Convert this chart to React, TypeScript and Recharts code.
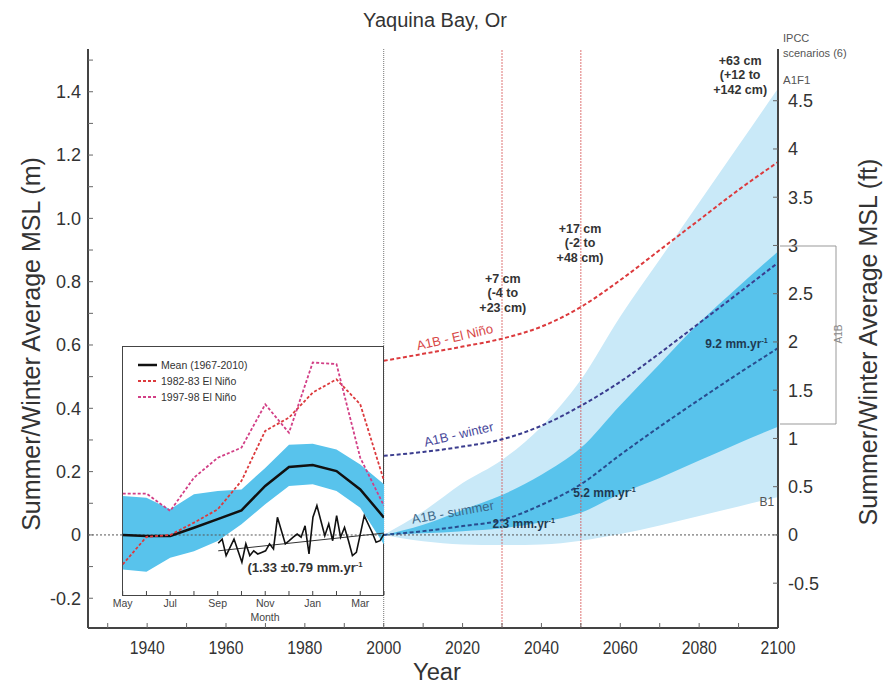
import React from 'react';
import {
  ComposedChart,
  Area,
  Line,
  XAxis,
  YAxis,
  ReferenceLine,
  ReferenceDot,
} from 'recharts';

// projections 2000-2100 (m above 2000 level)
const years = [2000, 2010, 2020, 2030, 2040, 2050, 2060, 2070, 2080, 2090, 2100];
const ipccLow = [0, -0.02, -0.03, -0.032, -0.03, -0.018, 0.003, 0.03, 0.06, 0.09, 0.12];
const ipccHigh = [0, 0.074, 0.164, 0.237, 0.342, 0.49, 0.69, 0.87, 1.05, 1.23, 1.41];
const a1bLow = [0, 0.005, 0.012, 0.021, 0.04, 0.07, 0.13, 0.18, 0.235, 0.29, 0.342];
const a1bHigh = [0, 0.032, 0.079, 0.126, 0.19, 0.275, 0.41, 0.54, 0.67, 0.785, 0.895];
const a1bElNino = [0.55, 0.572, 0.595, 0.62, 0.658, 0.72, 0.805, 0.9, 0.995, 1.09, 1.178];
const a1bWinter = [0.25, 0.262, 0.279, 0.302, 0.345, 0.408, 0.484, 0.574, 0.669, 0.764, 0.86];
const a1bSummer = [0, 0.012, 0.028, 0.047, 0.095, 0.16, 0.253, 0.342, 0.427, 0.51, 0.59];

// inset: monthly cycle May..Apr
const months = ['May', 'Jun', 'Jul', 'Aug', 'Sep', 'Oct', 'Nov', 'Dec', 'Jan', 'Feb', 'Mar', 'Apr'];
const meanMonthly = [0, -0.003, -0.003, 0.023, 0.05, 0.078, 0.155, 0.215, 0.221, 0.202, 0.144, 0.055];
const meanLow = [-0.109, -0.116, -0.072, -0.051, -0.019, 0.034, 0.097, 0.155, 0.16, 0.139, 0.086, -0.03];
const meanHigh = [0.123, 0.118, 0.081, 0.129, 0.139, 0.144, 0.212, 0.285, 0.288, 0.27, 0.223, 0.16];
const nino8283 = [-0.093, -0.006, 0, 0.039, 0.081, 0.171, 0.329, 0.371, 0.45, 0.492, 0.413, 0.171];
const nino9798 = [0.131, 0.131, 0.076, 0.181, 0.244, 0.276, 0.413, 0.323, 0.545, 0.54, 0.244, 0.092];

// annual mean sea level anomaly
const annualYears = [
  1958, 1959, 1960, 1962, 1964, 1965, 1966, 1967, 1968, 1969, 1970, 1971, 1972, 1973, 1975, 1976, 1977, 1978, 1979,
  1980, 1981, 1982, 1983, 1985, 1986, 1987, 1988, 1989, 1990, 1991, 1992, 1993, 1994, 1995, 1997, 1998, 1999, 2000,
];
const annualMsl = [
  -0.026, -0.013, -0.065, -0.013, -0.086, -0.028, -0.065, -0.05, -0.06, -0.055, -0.05, -0.028, -0.044, 0.056, -0.028,
  -0.018, -0.007, 0.003, -0.007, 0.029, -0.06, 0.056, 0.093, -0.002, 0.035, -0.018, 0.061, -0.007, 0.024, -0.018,
  -0.065, -0.055, 0.003, 0.061, 0.008, -0.023, -0.018, 0.003,
];
const trendYears = [1958, 2000];
const trendMsl = [-0.05, 0.006];

const mTicks = [-0.2, -0.1, 0, 0.1, 0.2, 0.3, 0.4, 0.5, 0.6, 0.7, 0.8, 0.9, 1.0, 1.1, 1.2, 1.3, 1.4, 1.5];
const ftTicks = [-0.5, 0, 0.5, 1, 1.5, 2, 2.5, 3, 3.5, 4, 4.5];
const yearTicks = [1930, 1940, 1950, 1960, 1970, 1980, 1990, 2000, 2010, 2020, 2030, 2040, 2050, 2060, 2070, 2080, 2090, 2100];
const insetMTicks = [-0.1, 0, 0.1, 0.2, 0.3, 0.4, 0.5];
const monthTicks = [0, 1, 2, 3, 4, 5, 6, 7, 8, 9, 10, 11];

const FT = 0.3048;
const M_DOMAIN: [number, number] = [-0.294, 1.535];
const FT_DOMAIN: [number, number] = [M_DOMAIN[0] / FT, M_DOMAIN[1] / FT];

const FONT = "'Liberation Sans', Arial, Helvetica, sans-serif";
const LIGHT = '#c9e9f8';
const DARK = '#58c3ec';
const RED = '#dc3a3d';
const WINTER = '#3a3c8e';
const SUMMER = '#284c8e';
const PINK = '#d23f86';

const projData = years.map((year, i) => ({
  year,
  ipcc: [ipccLow[i], ipccHigh[i]],
  a1b: [a1bLow[i], a1bHigh[i]],
  elNino: a1bElNino[i],
  winter: a1bWinter[i],
  summer: a1bSummer[i],
}));

const monthData = months.map((name, i) => ({
  mo: i,
  name,
  band: [meanLow[i], meanHigh[i]],
  mean: meanMonthly[i],
  n83: nino8283[i],
  n98: nino9798[i],
}));

const annualData = annualYears.map((year, i) => ({ year, msl: annualMsl[i] }));
const trendData = trendYears.map((year, i) => ({ year, msl: trendMsl[i] }));

type NoteProps = {
  cx?: number;
  cy?: number;
  lines: string[];
  sup?: string;
  color?: string;
  size?: number;
  bold?: boolean;
  angle?: number;
  gap?: number;
};

const Note = ({ cx = 0, cy = 0, lines, sup, color = '#333', size = 12, bold = false, angle = 0, gap }: NoteProps) => {
  const lh = gap ?? size * 1.2;
  const n = lines.length;
  return (
    <text
      x={cx}
      y={cy}
      textAnchor="middle"
      fill={color}
      fontSize={size}
      fontWeight={bold ? 700 : 400}
      fontFamily={FONT}
      transform={angle ? `rotate(${angle} ${cx} ${cy})` : undefined}
    >
      {lines.map((line, i) => (
        <tspan key={i} x={cx} y={cy + (i - (n - 1) / 2) * lh} dy="0.35em">
          {line}
          {sup && i === n - 1 ? (
            <tspan dy={-size * 0.4} fontSize={size * 0.6}>
              {sup}
            </tspan>
          ) : null}
        </tspan>
      ))}
    </text>
  );
};

const note = (props: Omit<NoteProps, 'cx' | 'cy'>) => (p: any) => <Note cx={p.cx} cy={p.cy} {...props} />;

const mLabel = (v: number) => {
  const k = Math.round(v * 10);
  if (k % 2 !== 0) return '';
  return k === 0 ? '0' : v.toFixed(1);
};

// condensed year labels, like the original's narrow font
const YearTick = (props: any) => {
  const { x, y, payload } = props;
  const v = payload.value as number;
  if (v % 20 !== 0) return null;
  return (
    <text
      x={x}
      y={y}
      textAnchor="middle"
      dy="0.71em"
      fontSize={19}
      fill="#333"
      fontFamily={FONT}
      textLength={35}
      lengthAdjust="spacingAndGlyphs"
    >
      {v}
    </text>
  );
};

const MainChart = () => (
  <ComposedChart
    width={895}
    height={685}
    data={projData}
    margin={{ top: 49, right: 57, bottom: 27, left: 28 }}
    style={{ position: 'absolute', left: 0, top: 0 }}
  >
    <XAxis
      xAxisId="yr"
      dataKey="year"
      type="number"
      domain={[1925, 2100]}
      allowDataOverflow
      ticks={yearTicks}
      interval={0}
      height={30}
      tickSize={-5}
      tickMargin={18}
      tick={<YearTick />}
      axisLine={{ stroke: '#444', strokeWidth: 2 }}
      tickLine={{ stroke: '#666' }}
    />
    <XAxis
      xAxisId="top"
      orientation="top"
      dataKey="year"
      type="number"
      domain={[1925, 2100]}
      allowDataOverflow
      ticks={yearTicks}
      interval={0}
      height={0}
      tickSize={-5}
      tickFormatter={() => ''}
      axisLine={{ stroke: '#444', strokeWidth: 2 }}
      tickLine={{ stroke: '#666' }}
    />
    <YAxis
      yAxisId="m"
      type="number"
      domain={M_DOMAIN}
      allowDataOverflow
      ticks={mTicks}
      interval={0}
      width={60}
      tickSize={-5}
      tickMargin={12}
      tickFormatter={mLabel}
      tick={{ fontSize: 18, fill: '#333', fontFamily: FONT }}
      axisLine={{ stroke: '#444', strokeWidth: 2 }}
      tickLine={{ stroke: '#666' }}
    />
    <YAxis
      yAxisId="ft"
      orientation="right"
      type="number"
      domain={FT_DOMAIN}
      allowDataOverflow
      ticks={ftTicks}
      interval={0}
      width={60}
      tickSize={-5}
      tickMargin={15}
      tickFormatter={(v: number) => String(v)}
      tick={{ fontSize: 18, fill: '#333', fontFamily: FONT }}
      axisLine={{ stroke: '#444', strokeWidth: 2 }}
      tickLine={{ stroke: '#666' }}
    />

    <Area xAxisId="yr" yAxisId="m" type="monotone" dataKey="ipcc" fill={LIGHT} fillOpacity={1} stroke="none" isAnimationActive={false} />
    <Area xAxisId="yr" yAxisId="m" type="monotone" dataKey="a1b" fill={DARK} fillOpacity={1} stroke="none" isAnimationActive={false} />

    <ReferenceLine xAxisId="yr" yAxisId="m" x={2000} stroke="#777" strokeWidth={1} strokeDasharray="1 1" />
    <ReferenceLine xAxisId="yr" yAxisId="m" x={2030} stroke="#d65050" strokeWidth={0.8} strokeDasharray="2 1" />
    <ReferenceLine xAxisId="yr" yAxisId="m" x={2050} stroke="#d65050" strokeWidth={0.8} strokeDasharray="2 1" />
    <ReferenceLine xAxisId="yr" yAxisId="m" y={0} stroke="#555" strokeWidth={1} strokeDasharray="2 2" />

    <Line xAxisId="yr" yAxisId="m" type="monotone" dataKey="elNino" stroke={RED} strokeWidth={2} strokeDasharray="4 2.5" dot={false} isAnimationActive={false} />
    <Line xAxisId="yr" yAxisId="m" type="monotone" dataKey="winter" stroke={WINTER} strokeWidth={2} strokeDasharray="4 2.5" dot={false} isAnimationActive={false} />
    <Line xAxisId="yr" yAxisId="m" type="monotone" dataKey="summer" stroke={SUMMER} strokeWidth={2} strokeDasharray="4 2.5" dot={false} isAnimationActive={false} />

    <ReferenceDot xAxisId="yr" yAxisId="m" x={2030.2} y={0.765} r={1} shape={note({ lines: ['+7 cm', '(-4 to', '+23 cm)'], bold: true, size: 12.5, gap: 14.5 })} />
    <ReferenceDot xAxisId="yr" yAxisId="m" x={2049.8} y={0.923} r={1} shape={note({ lines: ['+17 cm', '(-2 to', '+48 cm)'], bold: true, size: 12.5, gap: 14.5 })} />
    <ReferenceDot xAxisId="yr" yAxisId="m" x={2090.4} y={1.453} r={1} shape={note({ lines: ['+63 cm', '(+12 to', '+142 cm)'], bold: true, size: 12.5, gap: 14.5 })} />
    <ReferenceDot xAxisId="yr" yAxisId="m" x={2018} y={0.625} r={1} shape={note({ lines: ['A1B - El Niño'], color: '#d84848', size: 13, angle: -13 })} />
    <ReferenceDot xAxisId="yr" yAxisId="m" x={2019} y={0.318} r={1} shape={note({ lines: ['A1B - winter'], color: '#4a4a9c', size: 13, angle: -13 })} />
    <ReferenceDot xAxisId="yr" yAxisId="m" x={2017.5} y={0.072} r={1} shape={note({ lines: ['A1B - summer'], color: '#3d6888', size: 13, angle: -10 })} />
    <ReferenceDot xAxisId="yr" yAxisId="m" x={2035.5} y={0.035} r={1} shape={note({ lines: ['2.3 mm.yr'], sup: '-1', color: '#1f3a52', size: 12, bold: true })} />
    <ReferenceDot xAxisId="yr" yAxisId="m" x={2056} y={0.133} r={1} shape={note({ lines: ['5.2 mm.yr'], sup: '-1', color: '#1f3a52', size: 12, bold: true })} />
    <ReferenceDot xAxisId="yr" yAxisId="m" x={2089.5} y={0.603} r={1} shape={note({ lines: ['9.2 mm.yr'], sup: '-1', color: '#1f3a52', size: 12, bold: true })} />
    <ReferenceDot xAxisId="yr" yAxisId="m" x={2097.2} y={0.104} r={1} shape={note({ lines: ['B1'], color: '#555', size: 12 })} />
  </ComposedChart>
);

const InsetChart = () => (
  <ComposedChart
    width={292}
    height={290}
    data={monthData}
    margin={{ top: 6.7, right: 8, bottom: 15, left: 22.7 }}
    style={{ position: 'absolute', left: 100, top: 340 }}
  >
    <XAxis
      xAxisId="mo"
      dataKey="mo"
      type="number"
      domain={[0, 11]}
      allowDataOverflow
      ticks={monthTicks}
      interval={0}
      height={20}
      tickSize={-4}
      tickMargin={9}
      tickFormatter={(i: number) => (i % 2 === 0 ? months[i] : '')}
      tick={{ fontSize: 10.5, fill: '#444', fontFamily: FONT }}
      axisLine={false}
      tickLine={{ stroke: '#444' }}
    />
    <XAxis xAxisId="annual" orientation="top" height={0} dataKey="year" type="number" domain={[1933.8, 2000]} allowDataOverflow hide />
    <YAxis
      yAxisId="m"
      type="number"
      domain={[-0.1896, 0.595]}
      allowDataOverflow
      ticks={insetMTicks}
      interval={0}
      width={0}
      tickSize={-4}
      tickFormatter={() => ''}
      axisLine={false}
      tickLine={{ stroke: '#444' }}
    />

    <ReferenceLine xAxisId="mo" yAxisId="m" y={0} stroke="#555" strokeWidth={1} strokeDasharray="2 2" />
    <Area xAxisId="mo" yAxisId="m" type="linear" dataKey="band" fill={DARK} fillOpacity={1} stroke="none" isAnimationActive={false} />
    <Line xAxisId="mo" yAxisId="m" type="linear" dataKey="mean" stroke="#111" strokeWidth={2.5} dot={false} isAnimationActive={false} />
    <Line xAxisId="mo" yAxisId="m" type="linear" dataKey="n83" stroke={RED} strokeWidth={1.8} strokeDasharray="3 2" dot={false} isAnimationActive={false} />
    <Line xAxisId="mo" yAxisId="m" type="linear" dataKey="n98" stroke={PINK} strokeWidth={1.8} strokeDasharray="3 2" dot={false} isAnimationActive={false} />

    <Line xAxisId="annual" yAxisId="m" data={trendData} type="linear" dataKey="msl" stroke="#333" strokeWidth={1} dot={false} isAnimationActive={false} />
    <Line xAxisId="annual" yAxisId="m" data={annualData} type="linear" dataKey="msl" stroke="#111" strokeWidth={1.6} dot={false} isAnimationActive={false} />
    <ReferenceDot xAxisId="annual" yAxisId="m" x={1980} y={-0.104} r={1} shape={note({ lines: ['(1.33 ±0.79 mm.yr'], sup: '-1', color: '#333', size: 13, bold: true })} />
  </ComposedChart>
);

const InsetLegend = () => (
  <svg width={140} height={50} style={{ position: 'absolute', left: 135, top: 357 }}>
    <line x1={3} x2={22} y1={8} y2={8} stroke="#111" strokeWidth={2.5} />
    <line x1={3} x2={22} y1={24} y2={24} stroke={RED} strokeWidth={1.8} strokeDasharray="3 2" />
    <line x1={3} x2={22} y1={40} y2={40} stroke={PINK} strokeWidth={1.8} strokeDasharray="3 2" />
    <text x={26} y={8} dy="0.35em" fontSize={10.5} fill="#333" fontFamily={FONT}>Mean (1967-2010)</text>
    <text x={26} y={24} dy="0.35em" fontSize={10.5} fill="#333" fontFamily={FONT}>1982-83 El Niño</text>
    <text x={26} y={40} dy="0.35em" fontSize={10.5} fill="#333" fontFamily={FONT}>1997-98 El Niño</text>
  </svg>
);

const Overlay = () => (
  <svg width={895} height={685} style={{ position: 'absolute', left: 0, top: 0, pointerEvents: 'none' }}>
    <text x={435} y={20} dy="0.35em" textAnchor="middle" fontSize={20} fill="#333" fontFamily={FONT}>
      Yaquina Bay, Or
    </text>
    <text x={31} y={344} dy="0.35em" textAnchor="middle" fontSize={25} fill="#333" fontFamily={FONT} transform="rotate(-90 31 344)">
      Summer/Winter Average MSL (m)
    </text>
    <text x={868} y={342} dy="0.35em" textAnchor="middle" fontSize={25} fill="#333" fontFamily={FONT} transform="rotate(-90 868 342)">
      Summer/Winter Average MSL (ft)
    </text>
    <text
      x={437}
      y={680}
      textAnchor="middle"
      fontSize={23}
      fill="#333"
      fontFamily={FONT}
      textLength={48}
      lengthAdjust="spacingAndGlyphs"
    >
      Year
    </text>
    <text x={783} y={38} dy="0.35em" fontSize={11} fill="#555" fontFamily={FONT}>IPCC</text>
    <text x={783} y={53} dy="0.35em" fontSize={11} fill="#555" fontFamily={FONT}>scenarios (6)</text>
    <text x={783} y={80} dy="0.35em" fontSize={11.5} fill="#555" fontFamily={FONT}>A1F1</text>
    <polyline points="780,246 836,246 836,424 780,424" fill="none" stroke="#999" strokeWidth={1} />
    <text x={838} y={334} dy="0.35em" textAnchor="middle" fontSize={10} fill="#888" fontFamily={FONT} transform="rotate(-90 838 334)">
      A1B
    </text>
    <text x={265} y={617} dy="0.35em" textAnchor="middle" fontSize={10.5} fill="#444" fontFamily={FONT}>
      Month
    </text>
  </svg>
);

export default function App() {
  return (
    <div style={{ position: 'absolute', left: 0, top: 0, width: 895, height: 685, background: '#fff', overflow: 'hidden' }}>
      <MainChart />
      <div
        style={{
          position: 'absolute',
          left: 122,
          top: 346,
          width: 262,
          height: 249.5,
          background: '#fff',
          border: '1.3px solid #444',
          boxSizing: 'border-box',
        }}
      />
      <InsetChart />
      <InsetLegend />
      <Overlay />
    </div>
  );
}
